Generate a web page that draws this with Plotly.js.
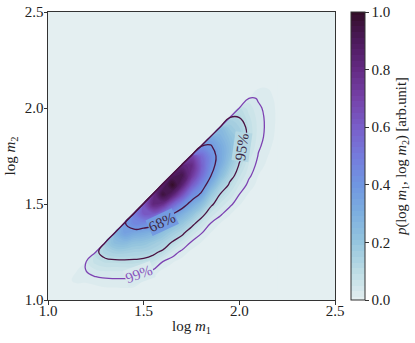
<!DOCTYPE html>
<html>
<head>
<meta charset="utf-8">
<script src="https://cdn.plot.ly/plotly-3.0.1.min.js"></script>
<style>
  html, body { margin: 0; padding: 0; background: #fff; }
  #chart { width: 415px; height: 343px; }
</style>
</head>
<body>
<div id="chart"></div>
<script>
// grid of the density map
const logM1 = [1.10, 1.15, 1.20, 1.25, 1.30, 1.35, 1.40, 1.45, 1.50, 1.55, 1.60, 1.65,
               1.70, 1.75, 1.80, 1.85, 1.90, 1.95, 2.00, 2.05, 2.10, 2.15, 2.20];
const logM2 = [1.05, 1.10, 1.15, 1.20, 1.25, 1.30, 1.35, 1.40, 1.45, 1.50, 1.55, 1.60,
               1.65, 1.70, 1.75, 1.80, 1.85, 1.90, 1.95, 2.00, 2.05, 2.10, 2.15];

// density per log m1 column: first value sits on log m2 = log m1,
// each next one a grid step (0.05) lower in log m2
const columnProfiles = [
    [0.008, 0.004],
    [0.02, 0.012, 0.004],
    [0.045, 0.03, 0.012, 0.003],
    [0.10, 0.08, 0.045, 0.015, 0.004],
    [0.17, 0.14, 0.095, 0.05, 0.02, 0.005],
    [0.27, 0.24, 0.16, 0.095, 0.05, 0.022, 0.005],
    [0.37, 0.36, 0.25, 0.16, 0.10, 0.05, 0.022, 0.006],
    [0.48, 0.46, 0.33, 0.22, 0.15, 0.10, 0.05, 0.02, 0.005],
    [0.62, 0.62, 0.45, 0.31, 0.21, 0.145, 0.09, 0.035, 0.01],
    [0.78, 0.82, 0.62, 0.42, 0.28, 0.18, 0.13, 0.07, 0.02, 0.004],
    [0.86, 0.96, 0.78, 0.52, 0.34, 0.22, 0.15, 0.10, 0.03, 0.005],
    [0.88, 1.00, 0.86, 0.60, 0.39, 0.25, 0.17, 0.11, 0.045, 0.012],
    [0.82, 0.93, 0.85, 0.66, 0.45, 0.30, 0.20, 0.13, 0.06, 0.02, 0.003],
    [0.70, 0.80, 0.75, 0.62, 0.46, 0.33, 0.22, 0.135, 0.065, 0.025, 0.005],
    [0.42, 0.56, 0.60, 0.56, 0.46, 0.36, 0.24, 0.14, 0.07, 0.032, 0.01],
    [0.32, 0.39, 0.44, 0.43, 0.39, 0.30, 0.20, 0.13, 0.065, 0.03, 0.01],
    [0.24, 0.28, 0.32, 0.33, 0.31, 0.25, 0.17, 0.115, 0.065, 0.035, 0.01],
    [0.14, 0.18, 0.22, 0.24, 0.23, 0.19, 0.14, 0.10, 0.065, 0.036, 0.012],
    [0.09, 0.12, 0.15, 0.165, 0.16, 0.135, 0.105, 0.075, 0.05, 0.03, 0.012],
    [0.04, 0.06, 0.075, 0.085, 0.085, 0.075, 0.06, 0.047, 0.035, 0.02, 0.008],
    [0.015, 0.025, 0.035, 0.04, 0.042, 0.04, 0.034, 0.027, 0.018, 0.01, 0.004],
    [0.005, 0.01, 0.015, 0.018, 0.02, 0.02, 0.018, 0.014, 0.01, 0.005, 0.002],
    [0, 0.003, 0.005, 0.006, 0.007, 0.007, 0.006, 0.005, 0.003, 0.002]
];

// density on the credible contours and the probability they enclose
const levelDensity = [0.38, 0.12, 0.03];
const levelMass = [0.68, 0.95, 0.99];
// where each contour label sits (log m1, log m2) and its tilt
const labelM1 = [1.597, 2.016, 1.475];
const labelM2 = [1.408, 1.80, 1.138];
const labelAngle = [-25, -82, -20];

const colorTicks = [0, 0.2, 0.4, 0.6, 0.8, 1.0];
const axisTicks = [1.0, 1.5, 2.0, 2.5];

const serif = '"Liberation Serif", "DejaVu Serif", serif';
const dense = [
    [0.0, '#e4eff1'], [0.1, '#bcdce4'], [0.2, '#95c5de'], [0.3, '#7dafdf'],
    [0.4, '#7096e1'], [0.5, '#757bdc'], [0.6, '#795ec9'], [0.7, '#7542a8'],
    [0.8, '#642a83'], [0.9, '#4c1a5b'], [1.0, '#330e28']
];

// colour of the map at a density value (used behind the contour labels)
function denseAt(v) {
    let n = 0;
    while (n < dense.length - 2 && v > dense[n + 1][0]) n++;
    const t = (v - dense[n][0]) / (dense[n + 1][0] - dense[n][0]);
    const a = dense[n][1], b = dense[n + 1][1];
    const ch = k => {
        const ca = parseInt(a.substr(1 + 2 * k, 2), 16), cb = parseInt(b.substr(1 + 2 * k, 2), 16);
        return Math.round(ca + t * (cb - ca));
    };
    return `rgb(${ch(0)},${ch(1)},${ch(2)})`;
}

// m2 > m1 has no support, push it far down so the contours follow the edge
const OUTSIDE = -20;
const density = logM2.map((y, j) => logM1.map((x, i) => {
    const k = Math.round((x - y) / 0.05);
    if (k < 0) return OUTSIDE;
    const prof = columnProfiles[i];
    return k < prof.length ? prof[k] : 0;
}));

// map density to enclosed probability so each contour is drawn at 0.68, 0.95, 0.99
const knotP = [1, ...levelDensity, 0];
const knotM = [0, ...levelMass, 1];
function enclosed(p) {
    let n = 0;
    while (n < knotP.length - 2 && p < knotP[n + 1]) n++;
    const t = (p - knotP[n]) / (knotP[n + 1] - knotP[n]);
    return knotM[n] + t * (knotM[n + 1] - knotM[n]);
}
const mass = density.map(row => row.map(enclosed));

const data = [{
    type: 'contour',
    x: logM1,
    y: logM2,
    z: density,
    colorscale: dense,
    zauto: false,
    zmin: 0,
    zmax: 1,
    autocontour: false,
    contours: { start: 0.01, end: 0.99, size: 0.02, coloring: 'fill', showlines: false },
    line: { width: 0, smoothing: 1.3 },
    hoverinfo: 'skip',
    colorbar: {
        x: 1.0557, xanchor: 'left', xpad: 0,
        y: 0.5, yanchor: 'middle', ypad: 0,
        len: 1, thickness: 14,
        outlinewidth: 1, outlinecolor: '#333',
        tickvals: colorTicks, tickformat: '.1f',
        ticks: 'outside', ticklen: 3.5, tickcolor: '#333',
        tickfont: { family: serif, size: 15, color: '#222' },
        title: {
            text: '<i>p</i>(log <i>m</i><sub>1</sub>, log <i>m</i><sub>2</sub>) [arb.unit]',
            side: 'right',
            font: { family: serif, size: 14.5, color: '#222' }
        }
    }
}];

const lineColors = ['#4b1342', '#4b1342', '#7d42b2'];
const labelColors = ['#3d2a45', '#3d2a45', '#8a55bd'];
for (let n = levelMass.length - 1; n >= 0; n--) {
    data.push({
        type: 'contour',
        x: logM1,
        y: logM2,
        z: mass,
        autocontour: false,
        contours: { start: levelMass[n], end: levelMass[n], size: 1, coloring: 'none' },
        line: { color: lineColors[n], width: 1.3, smoothing: 1.3 },
        showscale: false,
        hoverinfo: 'skip'
    });
}

const annotations = levelMass.map((m, n) => ({
    x: labelM1[n],
    y: labelM2[n],
    xref: 'x',
    yref: 'y',
    text: Math.round(m * 100) + '%',
    showarrow: false,
    textangle: labelAngle[n],
    font: { family: serif, size: 15, color: labelColors[n] },
    bgcolor: denseAt(levelDensity[n]),
    borderpad: 0
}));

const axis = {
    range: [1.0, 2.5],
    tickvals: axisTicks,
    tickformat: '.1f',
    ticks: 'outside',
    ticklen: 3.5,
    tickcolor: '#333',
    showline: true,
    mirror: true,
    linecolor: '#333',
    linewidth: 1,
    showgrid: false,
    zeroline: false,
    tickfont: { family: serif, size: 15, color: '#222' }
};

const layout = {
    width: 415,
    height: 343,
    margin: { l: 48, r: 80, t: 12, b: 43, autoexpand: false },
    paper_bgcolor: '#fff',
    plot_bgcolor: dense[0][1],
    showlegend: false,
    font: { family: serif, color: '#222' },
    annotations: annotations,
    xaxis: {
        ...axis, ticklabelstandoff: -7,
        title: { text: 'log <i>m</i><sub>1</sub>', font: { family: serif, size: 15 }, standoff: 2 }
    },
    yaxis: {
        ...axis, ticklabelstandoff: -3,
        title: { text: 'log <i>m</i><sub>2</sub>', font: { family: serif, size: 15 }, standoff: 5 }
    }
};

Plotly.newPlot('chart', data, layout, { displayModeBar: false, staticPlot: true });
</script>
</body>
</html>
